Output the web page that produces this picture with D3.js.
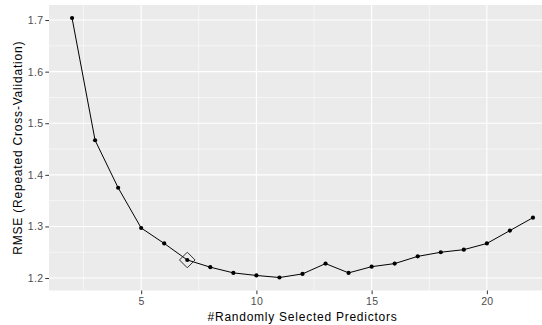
<!DOCTYPE html>
<html>
<head>
<meta charset="utf-8">
<script src="https://cdn.jsdelivr.net/npm/d3@7"></script>
<style>
  body { margin: 0; background: #fff; }
  svg { display: block; font-family: "Liberation Sans", Arial, sans-serif; }
</style>
</head>
<body>
<script>
// number of randomly selected predictors (mtry) and the resampled RMSE
var predictors = [2, 3, 4, 5, 6, 7, 8, 9, 10, 11, 12, 13, 14, 15, 16, 17, 18, 19, 20, 21, 22];
var rmse = [1.704, 1.467, 1.375, 1.297, 1.267, 1.235, 1.221, 1.210, 1.205, 1.201, 1.208,
            1.228, 1.210, 1.222, 1.228, 1.242, 1.250, 1.255, 1.267, 1.292, 1.317];
var bestIndex = 5; // mtry = 7 is marked with the diamond

var xTicks = [5, 10, 15, 20];
var xMinor = [2.5, 7.5, 12.5, 17.5, 22.5];
var yTicks = [1.2, 1.3, 1.4, 1.5, 1.6, 1.7];
var yMinor = [1.25, 1.35, 1.45, 1.55, 1.65];

var width = 542, height = 325;
var panel = {left: 49, top: 5, right: 556, bottom: 290.5};

var x = d3.scaleLinear().domain([1, 23]).range([panel.left, panel.right]);
var lo = d3.min(rmse), hi = d3.max(rmse), pad = (hi - lo) * 0.05;
var y = d3.scaleLinear().domain([lo - pad, hi + pad]).range([panel.bottom, panel.top]);

var svg = d3.select("body").append("svg")
    .attr("width", width)
    .attr("height", height);

svg.append("rect")
    .attr("x", panel.left)
    .attr("y", panel.top)
    .attr("width", panel.right - panel.left)
    .attr("height", panel.bottom - panel.top)
    .attr("fill", "#ebebeb");

// grid, minor first then major
var grid = svg.append("g");
grid.selectAll(".yminor").data(yMinor).enter().append("line")
    .attr("x1", panel.left).attr("x2", panel.right)
    .attr("y1", function(d) { return y(d); }).attr("y2", function(d) { return y(d); })
    .attr("stroke", "#fff").attr("stroke-width", 0.55);
grid.selectAll(".xminor").data(xMinor).enter().append("line")
    .attr("y1", panel.top).attr("y2", panel.bottom)
    .attr("x1", function(d) { return x(d); }).attr("x2", function(d) { return x(d); })
    .attr("stroke", "#fff").attr("stroke-width", 0.55);
grid.selectAll(".ymajor").data(yTicks).enter().append("line")
    .attr("x1", panel.left).attr("x2", panel.right)
    .attr("y1", function(d) { return y(d); }).attr("y2", function(d) { return y(d); })
    .attr("stroke", "#fff").attr("stroke-width", 1.1);
grid.selectAll(".xmajor").data(xTicks).enter().append("line")
    .attr("y1", panel.top).attr("y2", panel.bottom)
    .attr("x1", function(d) { return x(d); }).attr("x2", function(d) { return x(d); })
    .attr("stroke", "#fff").attr("stroke-width", 1.1);

// axes
var xAxis = d3.axisBottom(x).tickValues(xTicks).tickSize(3.7).tickPadding(3.5);
var yAxis = d3.axisLeft(y).tickValues(yTicks).tickSize(3.7).tickPadding(2).tickFormat(d3.format(".1f"));

var gx = svg.append("g")
    .attr("transform", "translate(0," + panel.bottom + ")")
    .call(xAxis);
var gy = svg.append("g")
    .attr("transform", "translate(" + panel.left + ",0)")
    .call(yAxis);

[gx, gy].forEach(function(g) {
  g.select(".domain").remove();
  g.selectAll(".tick line").attr("stroke", "#333333").attr("stroke-width", 1);
  g.selectAll(".tick text")
    .attr("fill", "#4d4d4d")
    .style("font-size", "10.5px")
    .style("letter-spacing", "0.3px")
    .style("font-family", "Liberation Sans, Arial, sans-serif");
});

// line and points
var line = d3.line()
    .x(function(d, i) { return x(predictors[i]); })
    .y(function(d) { return y(d); });

svg.append("path")
    .datum(rmse)
    .attr("d", line)
    .attr("fill", "none")
    .attr("stroke", "#000")
    .attr("stroke-width", 1);

svg.selectAll(".pt").data(rmse).enter().append("circle")
    .attr("cx", function(d, i) { return x(predictors[i]); })
    .attr("cy", function(d) { return y(d); })
    .attr("r", 2.1)
    .attr("fill", "#000");

// best model marker
var bx = x(predictors[bestIndex]), by = y(rmse[bestIndex]), s = 7.8;
svg.append("path")
    .attr("d", d3.line()([[bx, by - s], [bx + s, by], [bx, by + s], [bx - s, by]]) + "Z")
    .attr("fill", "none")
    .attr("stroke", "#333")
    .attr("stroke-width", 1);

// axis titles
svg.append("text")
    .attr("x", (panel.left + panel.right) / 2)
    .attr("y", 321)
    .attr("text-anchor", "middle")
    .style("font-size", "12px")
    .style("letter-spacing", "0.75px")
    .attr("fill", "#000")
    .text("#Randomly Selected Predictors");

svg.append("text")
    .attr("transform", "translate(21.5," + (panel.top + panel.bottom) / 2 + ") rotate(-90)")
    .attr("text-anchor", "middle")
    .style("font-size", "12px")
    .style("letter-spacing", "0.8px")
    .attr("fill", "#000")
    .text("RMSE (Repeated Cross-Validation)");
</script>
</body>
</html>
